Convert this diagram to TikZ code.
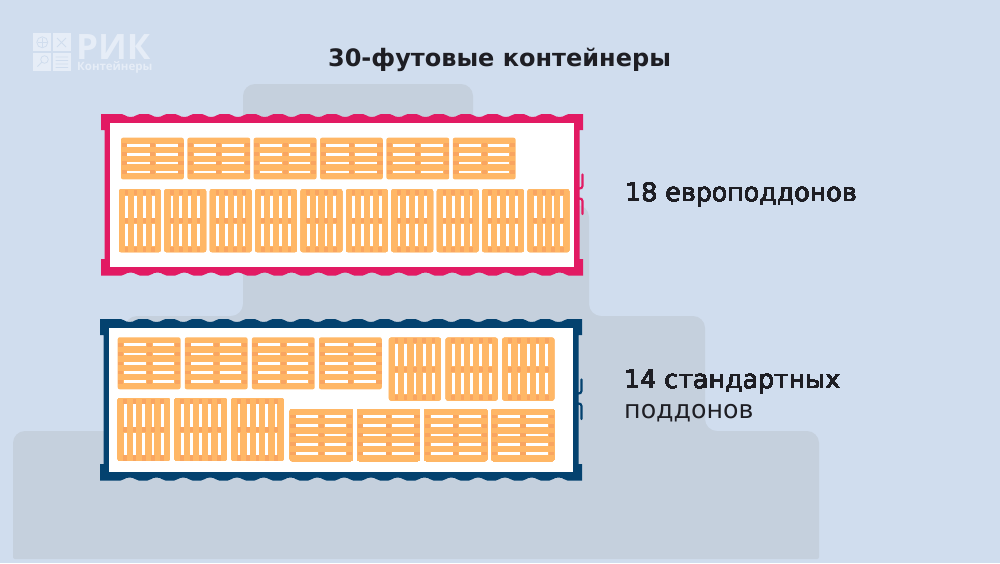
\documentclass[tikz,border=0pt]{standalone}
\usepackage{fontspec}
\setmainfont{Open Sans}
\newfontfamily\widefont{DejaVu Sans}
\definecolor{sheet}{HTML}{D0DDEE}
\definecolor{stack}{HTML}{C5D0DD}
\definecolor{logopale}{HTML}{E6EDF7}
\definecolor{pinkframe}{HTML}{E21A63}
\definecolor{blueframe}{HTML}{04426F}
\definecolor{deck}{HTML}{FFB766}
\definecolor{block}{HTML}{F9A561}
\definecolor{ink}{HTML}{1E1E24}
\tikzset{
	upright/.style = {cm = {0, -1, -1, 0, (0, 0)}},
	flat/.style = {},
	caption/.style = {anchor = base west, text = ink, font = \widefont\fontsize{25.3}{30}\selectfont, inner sep = 0pt},
	hinge/.style = {line width = 2.2pt, line cap = round}
}
% one pallet: x, y, flat or upright, number of slots
\newcommand{\pallet}[4]{
	\begin{scope}[shift = {(#1, #2)}, #3]
		\pgfmathsetmacro{\palletshort}{10.3*#4 + 0.5}
		\pgfmathsetmacro{\palletstep}{(\palletshort - 15)/(#4 - 1)}
		\fill[deck, rounded corners = 2pt] (0, 0) rectangle (62.8, \palletshort);
		\foreach \i in {1, ..., #4} {
			\pgfmathsetmacro{\slot}{7.5 + (\i - 1)*\palletstep}
			\fill[white] (6.3, \slot - 1.4) rectangle (28.5, \slot + 1.4);
			\fill[white] (34.8, \slot - 1.4) rectangle (56.5, \slot + 1.4);
			\foreach \xpos in {0.5, 28.8, 57.3}
				\fill[block] (\xpos, \slot - 1.8) rectangle (\xpos + 5.2, \slot + 1.8);
		}
	\end{scope}
}
% one container: x, y of the corner, colour
\newcommand{\container}[3]{
	\begin{scope}[shift = {(#1, #2)}]
		\fill[#3] (0, 0)
			foreach \i [evaluate = \i as \vx using 29.7 + 26.8*\i] in {0, ..., 16} {
				-- (\vx - 9, 0) .. controls (\vx - 5.5, 0) and (\vx - 5.5, 3) .. (\vx, 3) .. controls (\vx + 5.5, 3) and (\vx + 5.5, 0) .. (\vx + 9, 0)
			}
			-- (482, 0) -- (482, 16) -- (478.5, 16) -- (478.5, 145) -- (482, 145) -- (482, 161.5)
			foreach \i [evaluate = \i as \vx using 29.7 + 26.8*\i] in {16, 15, ..., 0} {
				-- (\vx + 9, 161.5) .. controls (\vx + 5.5, 161.5) and (\vx + 5.5, 158.5) .. (\vx, 158.5) .. controls (\vx - 5.5, 158.5) and (\vx - 5.5, 161.5) .. (\vx - 9, 161.5)
			}
			-- (0, 161.5) -- (0, 145) -- (3.5, 145) -- (3.5, 16) -- (0, 16) -- cycle;
		\fill[white] (9.3, 9) rectangle (473, 152.5);
		\draw[#3, hinge] (481.5, 60.5) -- (481.5, 72) .. controls (481.5, 74) and (480, 74.5) .. (478, 74.5);
		\draw[#3, hinge] (481.5, 100) -- (481.5, 87) .. controls (481.5, 85) and (480, 84.5) .. (478, 84.5);
	\end{scope}
}

\begin{document}
\begin{tikzpicture}[x = 1pt, y = -1pt]
	\useasboundingbox (0, 0) rectangle (1000, 563);
	\fill[sheet] (0, 0) rectangle (1000, 563);
	% stacked steps behind the containers
	\fill[stack] [rounded corners = 2pt] (13, 559) [rounded corners = 12pt] -- (13, 431) -- (125, 431) -- (125, 316) -- (243, 316) -- (243, 84) -- (473, 84) -- (473, 205) -- (589, 205) -- (589, 316) -- (705, 316) -- (705, 431) -- (819, 431) [rounded corners = 2pt] -- (819, 559) -- cycle;

	% logo
	\foreach \xpos in {33.3, 52.6}
		\foreach \ypos in {33.3, 52.6}
			\fill[logopale] (\xpos, \ypos) rectangle (\xpos + 18, \ypos + 18);
	\begin{scope}[sheet, line width = 0.8pt]
		\draw (42.3, 42.3) circle (5.5);
		\draw (38, 42.3) -- (46.6, 42.3) (42.3, 38) -- (42.3, 46.6);
		\draw (57, 38) -- (66, 47) (66, 38) -- (57, 47);
		\draw (44.5, 59.5) circle (3.8);
		\draw (41.8, 62.2) -- (37.5, 66.5);
		\foreach \ypos in {57, 60.5, 64, 67.5}
			\draw (55.5, \ypos) .. controls (58, \ypos - 1.6) and (60, \ypos + 1.6) .. (62, \ypos) .. controls (64, \ypos - 1.6) and (66, \ypos + 1.6) .. (68, \ypos);
	\end{scope}
	\node[anchor = base west, text = logopale, inner sep = 0pt, font = \fontsize{35}{35}\selectfont\bfseries] (logoname) at (76, 59.3) {РИК};
	\node[anchor = base west, text = logopale, inner sep = 0pt, font = \fontsize{11.5}{12}\selectfont\bfseries] (logosub) at (77, 70) {Контейнеры};

	\node[anchor = base, text = ink, inner sep = 0pt, font = \widefont\fontsize{24}{28}\selectfont\bfseries] (title) at (499.5, 66) {30-футовые контейнеры};

	% upper container
	\container{101}{114}{pinkframe}
	\foreach \xpos in {121, 187.4, 253.7, 320, 386.4, 452.8}
		\pallet{\xpos}{137.7}{flat}{4}
	\foreach \i in {0, ..., 9}
		\pallet{119 + 45.4*\i}{189.3}{upright}{4}
	\node[caption] (eurolabel) at (625, 201.7) {18 европоддонов};

	% lower container
	\container{100}{319}{blueframe}
	\foreach \xpos in {117.7, 184.8, 251.9, 319}
		\pallet{\xpos}{337.3}{flat}{5}
	\foreach \xpos in {388.9, 445.6, 502.3}
		\pallet{\xpos}{337.7}{upright}{5}
	\foreach \xpos in {117.7, 174.6, 231.5}
		\pallet{\xpos}{398}{upright}{5}
	\foreach \xpos in {289.9, 357.1, 424.3, 491.5}
		\pallet{\xpos}{409}{flat}{5}
	\node[caption] (standardlabel) at (624, 388) {14 стандартных};
	\node[caption] (standardlabeltwo) at (624, 418) {поддонов};
\end{tikzpicture}
\end{document}
